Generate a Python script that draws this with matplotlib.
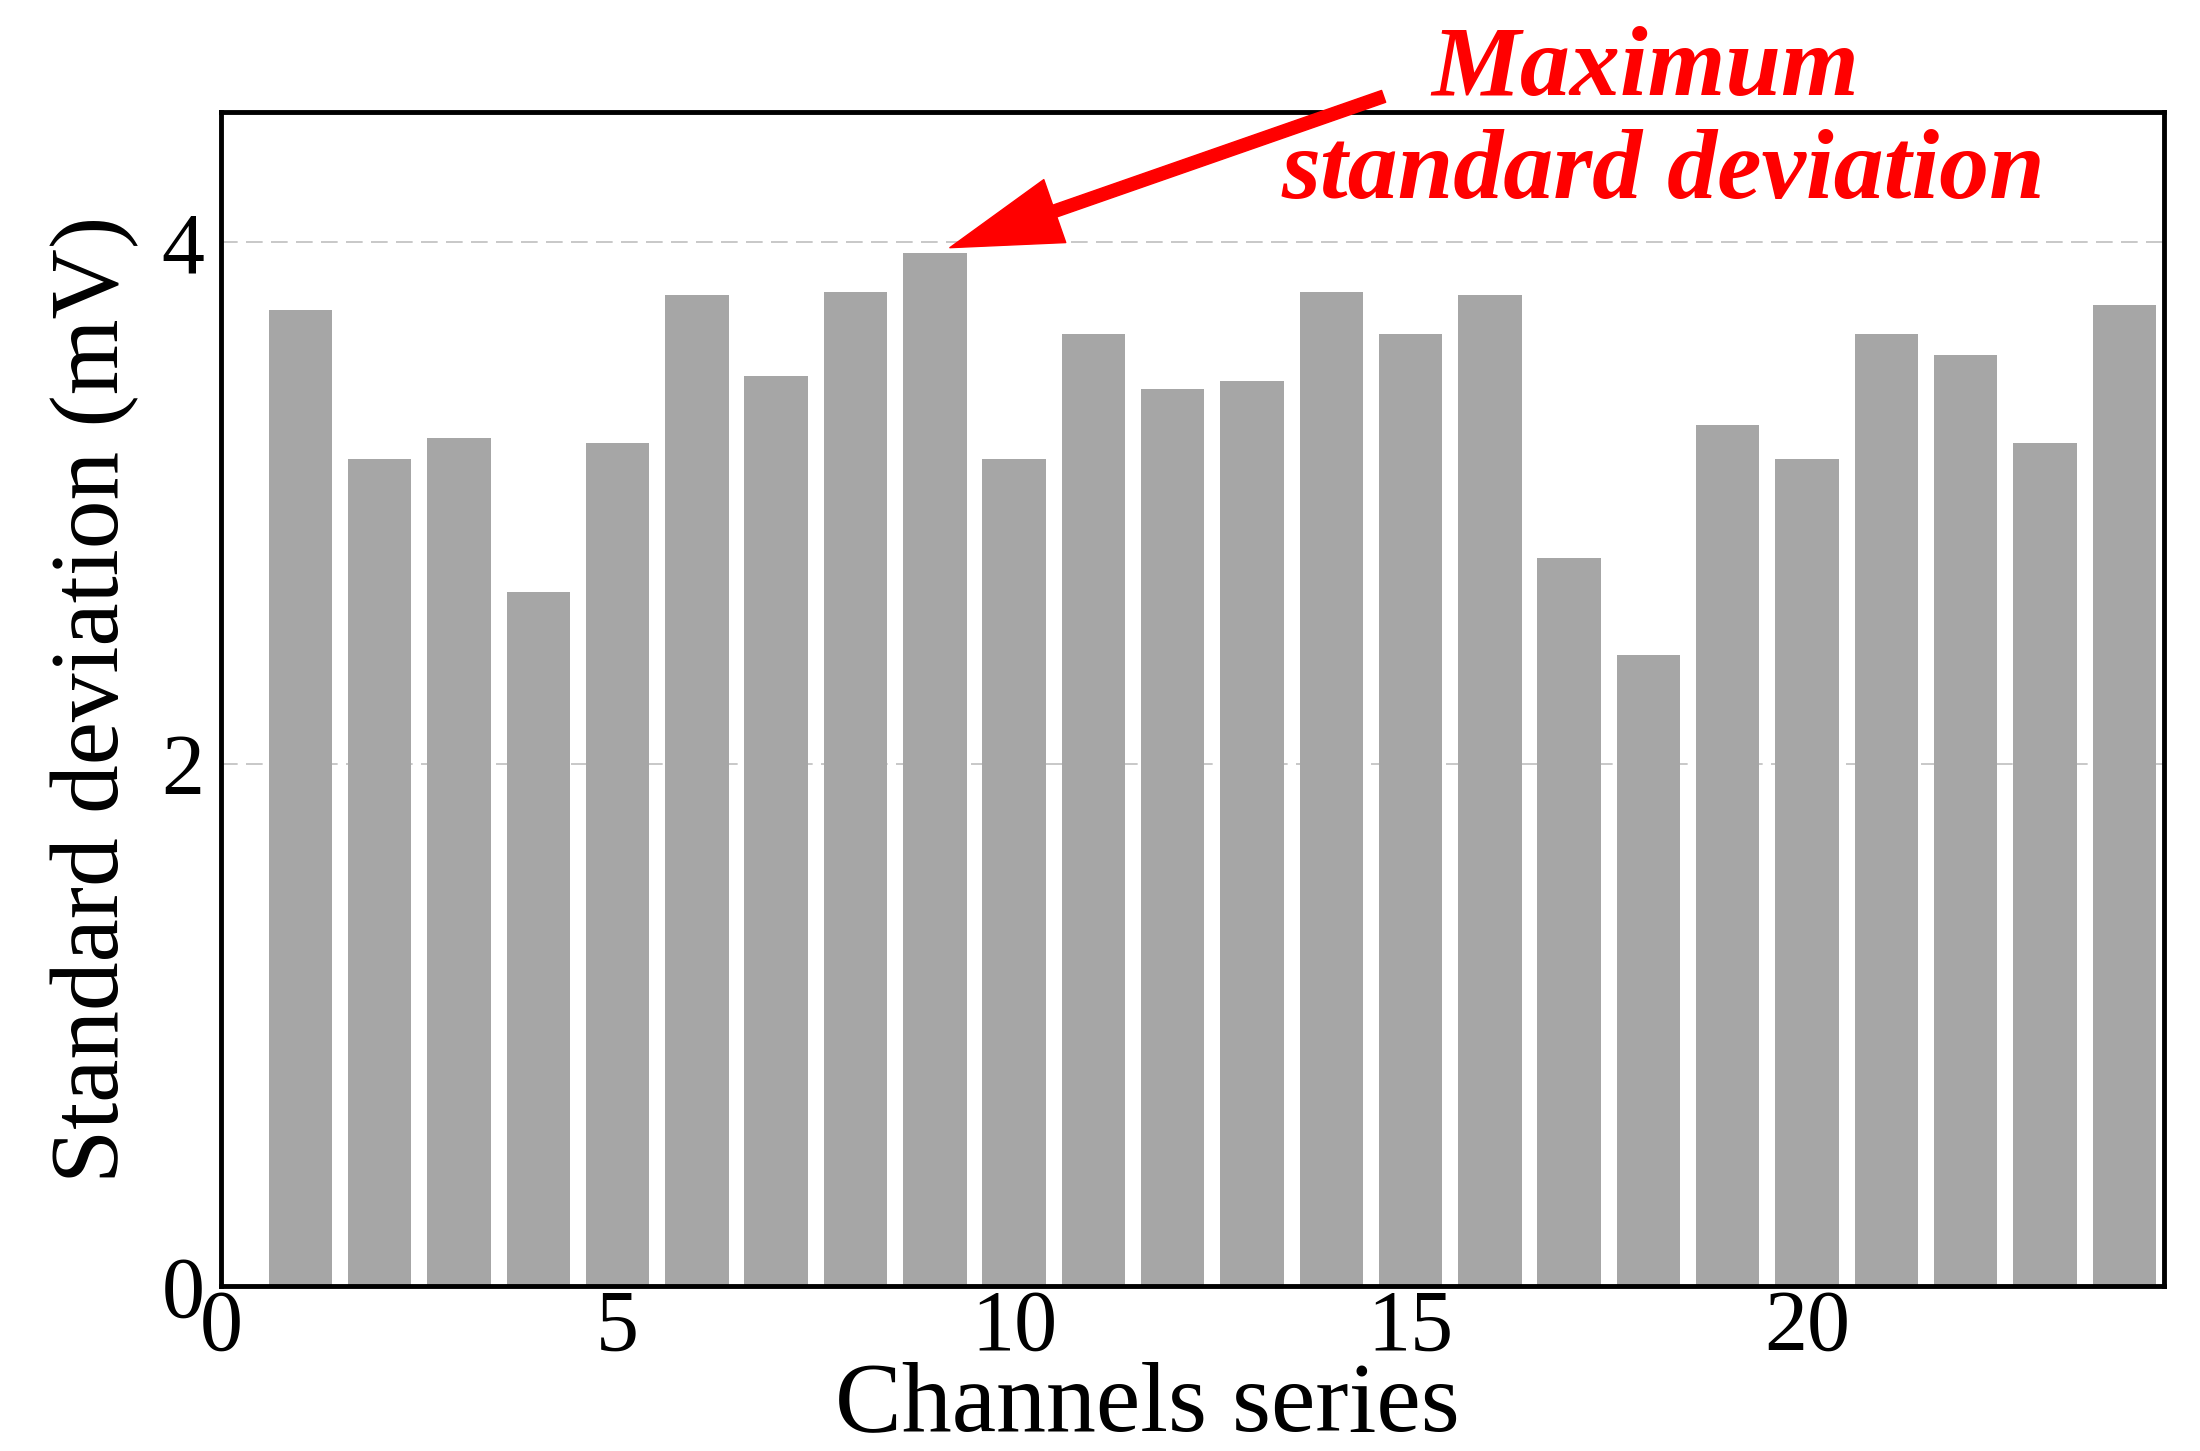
import numpy as np
import matplotlib
matplotlib.use("Agg")
import matplotlib.pyplot as plt

# values
channels = np.arange(1, 25)
std_dev = [3.74, 3.17, 3.25, 2.66, 3.23, 3.80, 3.49, 3.81, 3.96, 3.17, 3.65, 3.44,
           3.47, 3.81, 3.65, 3.80, 2.79, 2.42, 3.30, 3.17, 3.65, 3.57, 3.23, 3.76]
x_ticks = [0, 5, 10, 15, 20]
y_ticks = [0, 2, 4]
note_lines = ["Maximum", "standard deviation"]

plt.rcParams['font.family'] = ['Liberation Serif', 'DejaVu Serif']

fig = plt.figure(figsize=(22, 14.51), dpi=100)
ax = fig.add_axes([0.1005, 0.1137, 0.8831, 0.8091])

ax.bar(channels, std_dev, width=0.8, color='#a6a6a6', zorder=2)

ax.set_xlim(0, 24.5)
ax.set_ylim(0, 4.5)
ax.set_xticks(x_ticks)
ax.set_yticks(y_ticks)
ax.tick_params(axis='both', length=0, labelsize=62)
ax.tick_params(axis='x', pad=2)
ax.tick_params(axis='y', pad=12)

ax.yaxis.grid(True, color='#bfbfbf', linestyle=(0, (10, 5)), linewidth=1.2)
ax.set_axisbelow(True)
for sp in ax.spines.values():
    sp.set_linewidth(3.5)

ax.set_xlabel("Channels series", fontsize=72)
ax.xaxis.label.set_va('baseline')
ax.xaxis.set_label_coords(0.477, -0.1227)
ax.set_ylabel("Standard deviation (mV)", fontsize=70)
ax.yaxis.label.set_va('center')
ax.yaxis.set_label_coords(-0.0648, 0.5)

# arrow to the largest bar
imax = int(np.argmax(std_dev))
ax.annotate('', xy=(channels[imax] + 0.19, std_dev[imax] + 0.02),
            xytext=(14.66, 4.56),
            arrowprops=dict(color='red', width=9, headwidth=48, headlength=80),
            annotation_clip=False)

fig.text(0.748, 0.9345, note_lines[0], color='red', fontsize=72,
         fontweight='bold', fontstyle='italic', ha='center', va='baseline')
fig.text(0.756, 0.8635, note_lines[1], color='red', fontsize=72,
         fontweight='bold', fontstyle='italic', ha='center', va='baseline')

fig.savefig("out.png", dpi=100)
